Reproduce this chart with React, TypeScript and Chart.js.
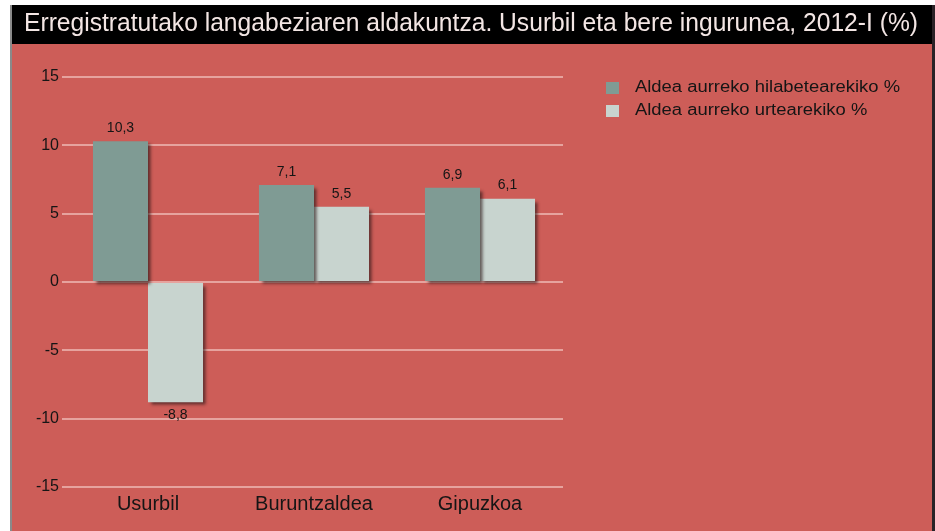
import React, { useEffect, useRef } from "react";
import { Chart, registerables } from "chart.js";

Chart.register(...registerables);

const titleText = "Erregistratutako langabeziaren aldakuntza. Usurbil eta bere ingurunea, 2012-I (%)";
const categories = ["Usurbil", "Buruntzaldea", "Gipuzkoa"];
const seriesLabels = ["Aldea aurreko hilabetearekiko %", "Aldea aurreko urtearekiko %"];
const monthlyChange = [10.3, 7.1, 6.9];
const yearlyChange = [-8.8, 5.5, 6.1];
const yTicks = [-15, -10, -5, 0, 5, 10, 15];

const seriesColors = ["#7f9b94", "#c8d4cf"];
const RED = "#cd5d58";
const GRID = "#e6a39e";
const TEXT = "#151515";
const FONT = "'Liberation Sans', Arial, sans-serif";

const fmt = (v: number) => String(v).replace(".", ",");

const framePlugin = {
  id: "frame",
  beforeDraw(chart: any) {
    const { ctx, width, height } = chart;
    ctx.save();
    ctx.fillStyle = "#ffffff";
    ctx.fillRect(0, 0, width, height);
    ctx.fillStyle = "#000000";
    ctx.fillRect(11, 5, 922, 39);
    ctx.fillStyle = RED;
    ctx.fillRect(11, 44, 922, height - 44);
    ctx.fillStyle = "#8a8a8a";
    ctx.fillRect(10, 5, 2, height - 5);
    ctx.fillStyle = "#2a2226";
    ctx.fillRect(932, 5, 3, height - 5);
    ctx.restore();
  },
  afterDraw(chart: any) {
    const { ctx } = chart;
    // title (condensed to the reference width)
    ctx.save();
    ctx.font = `26px ${FONT}`;
    ctx.fillStyle = "#f3e6e4";
    ctx.textBaseline = "alphabetic";
    ctx.textAlign = "left";
    const w = ctx.measureText(titleText).width;
    ctx.translate(24, 31);
    ctx.scale(894 / w, 1);
    ctx.fillText(titleText, 0, 0);
    ctx.restore();

    // legend
    ctx.save();
    ctx.font = `16px ${FONT}`;
    ctx.textBaseline = "middle";
    ctx.textAlign = "left";
    const sx = 265 / ctx.measureText(seriesLabels[0]).width;
    chart.data.datasets.forEach((ds: any, i: number) => {
      const cy = 88 + i * 23;
      ctx.fillStyle = ds.backgroundColor;
      ctx.fillRect(606, cy - 6, 13, 12);
      ctx.fillStyle = TEXT;
      ctx.save();
      ctx.translate(635, cy);
      ctx.scale(sx, 1);
      ctx.fillText(ds.label, 0, 0);
      ctx.restore();
    });
    ctx.restore();
  },
};

const shadowPlugin = {
  id: "barShadow",
  beforeDatasetsDraw(chart: any) {
    const ctx = chart.ctx;
    ctx.save();
    ctx.shadowColor = "rgba(40,20,20,0.65)";
    ctx.shadowOffsetX = 3;
    ctx.shadowOffsetY = 3;
    ctx.shadowBlur = 3;
  },
  afterDatasetsDraw(chart: any) {
    const ctx = chart.ctx;
    ctx.restore();
    ctx.save();
    ctx.font = `14px ${FONT}`;
    ctx.fillStyle = TEXT;
    ctx.textAlign = "center";
    chart.data.datasets.forEach((ds: any, di: number) => {
      const meta = chart.getDatasetMeta(di);
      meta.data.forEach((bar: any, i: number) => {
        const v = ds.data[i];
        if (v >= 0) {
          ctx.textBaseline = "bottom";
          ctx.fillText(fmt(v), bar.x, bar.y - 6);
        } else {
          ctx.textBaseline = "top";
          ctx.fillText(fmt(v), bar.x, bar.y + 6);
        }
      });
    });
    ctx.restore();
  },
};

export default function App() {
  const ref = useRef<HTMLCanvasElement | null>(null);

  useEffect(() => {
    if (!ref.current) return;
    const chart = new Chart(ref.current, {
      type: "bar",
      data: {
        labels: categories,
        datasets: [
          {
            label: seriesLabels[0],
            data: monthlyChange,
            backgroundColor: seriesColors[0],
            borderWidth: 0,
          },
          {
            label: seriesLabels[1],
            data: yearlyChange,
            backgroundColor: seriesColors[1],
            borderWidth: 0,
          },
        ],
      },
      options: {
        responsive: false,
        animation: false,
        devicePixelRatio: 1,
        layout: { padding: { top: 77, right: 372, left: 0, bottom: 0 } },
        plugins: {
          legend: { display: false },
          title: { display: false },
          tooltip: { enabled: false },
        },
        datasets: {
          bar: { categoryPercentage: 0.663, barPercentage: 1 },
        },
        scales: {
          x: {
            grid: { display: false, drawTicks: false },
            border: { display: false },
            ticks: {
              color: TEXT,
              font: { family: FONT, size: 20 },
              padding: 5,
            },
            afterFit: (s: any) => {
              s.height = 44;
            },
          },
          y: {
            min: -15,
            max: 15,
            afterBuildTicks: (s: any) => {
              s.ticks = yTicks.map((v) => ({ value: v }));
            },
            grid: {
              color: GRID,
              lineWidth: 2,
              tickLength: 3,
              tickColor: GRID,
            },
            border: { display: false },
            ticks: {
              color: TEXT,
              font: { family: FONT, size: 16 },
              padding: 3,
              callback: (v: any) => String(v),
            },
            afterFit: (s: any) => {
              s.width = 65;
            },
          },
        },
      },
      plugins: [framePlugin, shadowPlugin],
    });
    return () => chart.destroy();
  }, []);

  return (
    <div style={{ position: "absolute", left: 0, top: 0, width: 935, height: 531 }}>
      <canvas ref={ref} width={935} height={531} />
    </div>
  );
}
